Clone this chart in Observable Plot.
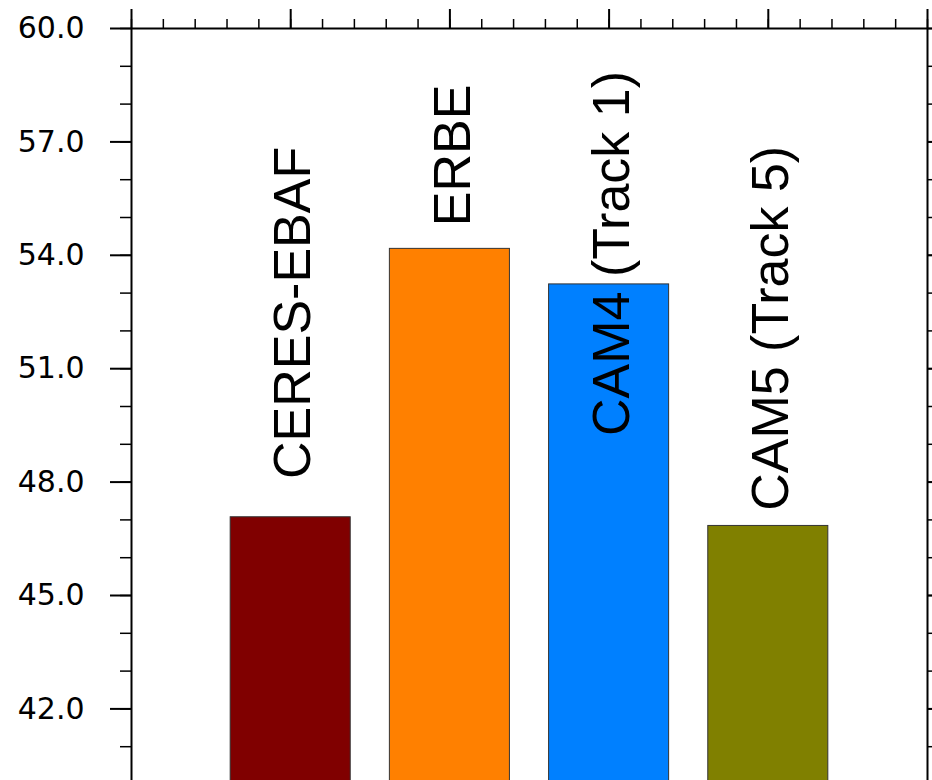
<!DOCTYPE html>
<html>
<head>
<meta charset="utf-8">
<script src="https://cdn.jsdelivr.net/npm/d3@7"></script>
<script src="https://cdn.jsdelivr.net/npm/@observablehq/plot@0.6"></script>
<style>
  html, body { margin: 0; padding: 0; background: #fff; }
  #chart { width: 932px; height: 780px; overflow: hidden; }
</style>
</head>
<body>
<div id="chart"></div>
<script>
// Datasets and their bar values
const categories = ["CERES-EBAF", "ERBE", "CAM4 (Track 1)", "CAM5 (Track 5)"];
const values = [47.07, 54.17, 53.23, 46.84];
const colors = ["#800000", "#ff8000", "#0080ff", "#808000"];
// value at which each rotated name begins
const labelBase = [48.08, 54.77, 49.22, 47.24];

// y axis ticks
const yMajor = [42, 45, 48, 51, 54, 57, 60];
const yMinor = d3.range(40, 61, 1);
// top axis ticks (bar slots)
const xMajor = [0, 1, 2, 3, 4, 5];
const xMinor = d3.range(0, 26).map(i => i / 5);

const data = categories.map((name, i) => ({
  name,
  pos: i + 1,
  value: values[i],
  color: colors[i],
  labelAt: labelBase[i]
}));

const blank = () => "";
const halfWidth = 0.377;

const chart = Plot.plot({
  width: 932,
  height: 780,
  marginLeft: 131,
  marginRight: 5,
  marginTop: 28,
  marginBottom: 0,
  style: {
    fontFamily: "'Liberation Sans', Arial, Helvetica, sans-serif",
    background: "#fff",
    color: "#000"
  },
  x: { domain: [0, 5], axis: null, label: null },
  y: { domain: [40, 60], range: [784, 28], axis: null, label: null },
  color: { type: "identity" },
  marks: [
    Plot.rectY(data, {
      x1: d => d.pos - halfWidth,
      x2: d => d.pos + halfWidth,
      y1: 40,
      y2: "value",
      fill: "color",
      stroke: "#333",
      strokeWidth: 1
    }),
    Plot.text(data, {
      x: "pos",
      y: "labelAt",
      text: "name",
      rotate: -90,
      textAnchor: "start",
      lineAnchor: "middle",
      fontSize: 52,
      dx: 3,
      fill: "#000"
    }),
    // left axis
    Plot.axisY(yMinor, { anchor: "left", tickSize: 11, tickFormat: blank, strokeWidth: 1.5, label: null }),
    Plot.axisY(yMajor, {
      anchor: "left",
      tickSize: 21,
      tickPadding: 26,
      tickFormat: d3.format(".1f"),
      fontSize: 30,
      fontFamily: "'DejaVu Sans', sans-serif",
      strokeWidth: 2,
      label: null
    }),
    // right axis
    Plot.axisY(yMinor, { anchor: "right", tickSize: 11, tickFormat: blank, strokeWidth: 1.5, label: null }),
    Plot.axisY(yMajor, { anchor: "right", tickSize: 21, tickFormat: blank, strokeWidth: 2, label: null }),
    // top axis
    Plot.axisX(xMinor, { anchor: "top", tickSize: 10, tickFormat: blank, strokeWidth: 1.5, label: null }),
    Plot.axisX(xMajor, { anchor: "top", tickSize: 20, tickFormat: blank, strokeWidth: 2, label: null }),
    // frame
    Plot.ruleX([0, 5], { stroke: "#000", strokeWidth: 2 }),
    Plot.ruleY([60], { stroke: "#000", strokeWidth: 2 })
  ]
});

document.getElementById("chart").appendChild(chart);
</script>
</body>
</html>
